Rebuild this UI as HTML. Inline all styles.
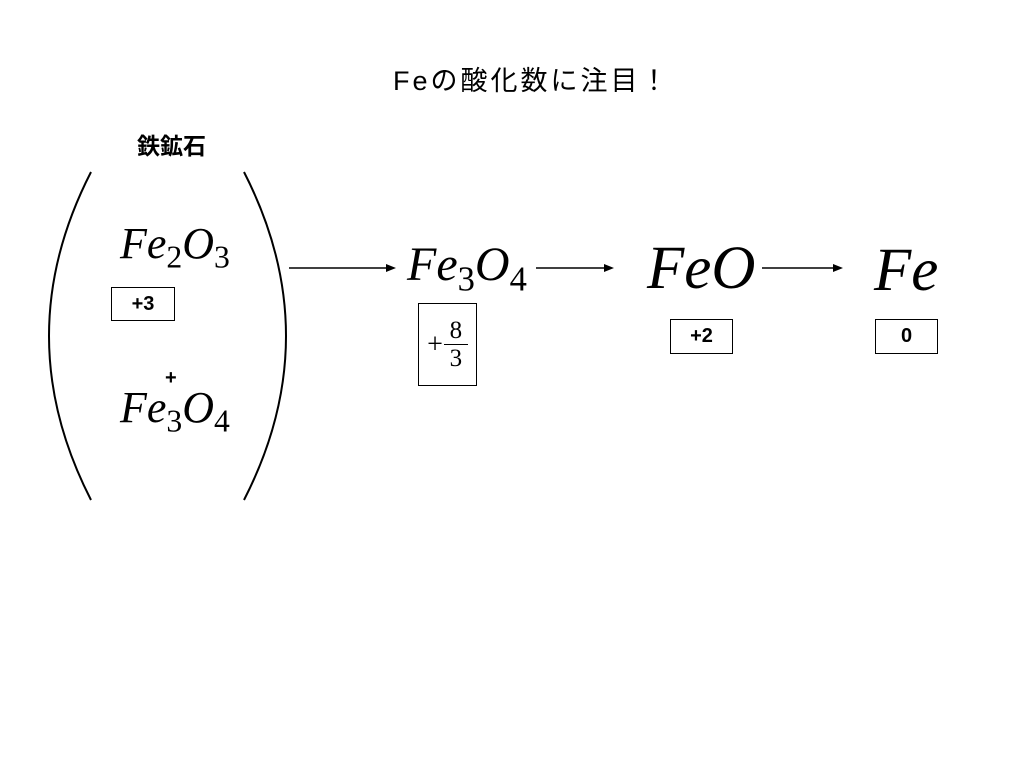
<!DOCTYPE html>
<html><head><meta charset="utf-8"><style>
body{margin:0;width:1024px;height:768px;background:#fff;position:relative;overflow:hidden}
.a{position:absolute;white-space:nowrap;line-height:1}
.m{font-family:"Liberation Serif",serif;font-style:italic;color:#000}
.m sub{font-style:normal;font-size:72%;vertical-align:-0.3em;line-height:0}
.box{position:absolute;border:1.5px solid #000;box-sizing:border-box;font-family:"Liberation Sans",sans-serif;font-weight:bold;font-size:20px;display:flex;align-items:center;justify-content:center}
</style></head><body>
<div class="a" style="left:393px;top:68px;font-family:'Liberation Sans','Noto Sans CJK JP',sans-serif;font-size:27px;letter-spacing:3px">Feの酸化数に注目！</div>
<div class="a" style="left:137px;top:135px;font-family:'Liberation Sans','Noto Sans CJK JP',sans-serif;font-size:23px;font-weight:bold">鉄鉱石</div>
<svg width="1024" height="768" style="position:absolute;left:0;top:0">
<path d="M91,172 Q7,336 91,500" fill="none" stroke="#000" stroke-width="2"/>
<path d="M244,172 Q328,336 244,500" fill="none" stroke="#000" stroke-width="2"/>
<g stroke="#000" stroke-width="1.5"><line x1="289" y1="268" x2="388" y2="268"/><line x1="536" y1="268" x2="606" y2="268"/><line x1="762" y1="268" x2="835" y2="268"/></g>
<g fill="#000"><path d="M396,268 L386,264 L386,272Z"/><path d="M614,268 L604,264 L604,272Z"/><path d="M843,268 L833,264 L833,272Z"/></g>
</svg>
<div class="a m" style="left:120px;top:222px;font-size:44px">Fe<sub>2</sub>O<sub>3</sub></div>
<div class="box" style="left:111px;top:287px;width:64px;height:34px">+3</div>
<div class="a" style="left:165px;top:368px;font-family:'Liberation Sans',sans-serif;font-weight:bold;font-size:20px">+</div>
<div class="a m" style="left:120px;top:386px;font-size:44px">Fe<sub>3</sub>O<sub>4</sub></div>
<div class="a m" style="left:407px;top:241px;font-size:48px">Fe<sub>3</sub>O<sub>4</sub></div>
<div class="a m" style="left:647px;top:238px;font-size:61px">FeO</div>
<div class="a m" style="left:874px;top:240px;font-size:61px">Fe</div>
<div class="box" style="left:418px;top:303px;width:59px;height:83px;font-weight:normal;font-family:'Liberation Serif',serif">
<span style="font-size:28px;margin-right:1px">+</span>
<span style="display:inline-flex;flex-direction:column;align-items:center;font-size:25px;line-height:1.1"><span>8</span><span style="border-top:1.5px solid #000;width:24px;text-align:center">3</span></span></div>
<div class="box" style="left:670px;top:319px;width:63px;height:35px">+2</div>
<div class="box" style="left:875px;top:319px;width:63px;height:35px">0</div>
</body></html>
